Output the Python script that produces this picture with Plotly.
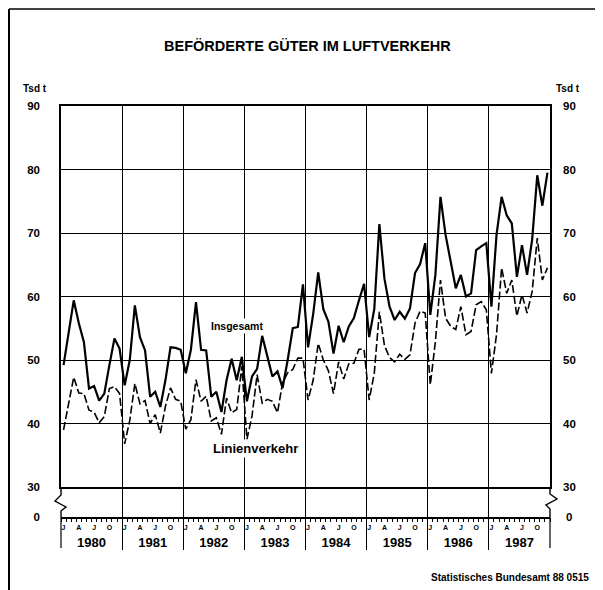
import plotly.graph_objects as go

# ---------------- data ----------------
years = [1980, 1981, 1982, 1983, 1984, 1985, 1986, 1987]
month_letters = ["J", "A", "J", "O"]
month_letter_idx = [0, 3, 6, 9]
y_ticks = [30, 40, 50, 60, 70, 80, 90]

# Insgesamt (Tsd t), monthly Jan..Dec per year
insgesamt = [
    49.2, 54.0, 59.4, 55.8, 52.8, 45.5, 45.9, 43.6, 44.7, 49.2, 53.4, 51.8,  # 1980
    46.0, 50.0, 58.6, 53.6, 51.5, 44.2, 45.0, 42.6, 46.8, 52.0, 51.9, 51.6,  # 1981
    47.9, 51.6, 59.1, 51.6, 51.5, 44.2, 45.0, 41.8, 46.8, 50.2, 46.8, 50.5,  # 1982
    43.5, 47.4, 48.6, 53.8, 50.6, 47.4, 48.2, 45.6, 50.0, 55.0, 55.2, 61.9,  # 1983
    52.0, 57.2, 63.8, 58.0, 56.0, 51.0, 55.4, 52.8, 55.3, 56.6, 59.4, 62.0,  # 1984
    53.6, 58.0, 71.4, 62.8, 58.4, 56.3, 57.6, 56.5, 58.1, 63.7, 65.1, 68.4,  # 1985
    57.1, 63.4, 75.7, 69.7, 65.5, 61.3, 63.4, 60.0, 60.5, 67.3, 67.9, 68.4,  # 1986
    58.4, 69.7, 75.7, 72.8, 71.5, 63.1, 68.1, 63.4, 69.0, 79.1, 74.3, 79.5,  # 1987
]
# Linienverkehr (Tsd t)
linienverkehr = [
    39.0, 43.1, 47.3, 44.8, 44.7, 42.1, 41.8, 40.1, 41.1, 45.5, 45.8, 44.7,  # 1980
    36.8, 40.5, 46.3, 43.1, 43.6, 40.0, 41.4, 38.5, 42.7, 45.6, 43.8, 43.5,  # 1981
    39.1, 40.6, 46.9, 43.5, 44.3, 40.4, 40.9, 38.3, 44.0, 41.7, 42.2, 49.0,  # 1982
    37.5, 41.2, 47.7, 43.2, 43.8, 43.5, 41.7, 46.4, 48.0, 48.5, 50.3, 50.3,  # 1983
    43.7, 46.8, 52.6, 50.0, 48.3, 44.7, 49.7, 47.0, 49.4, 49.5, 51.7, 51.7,  # 1984
    43.7, 47.9, 57.6, 52.3, 50.4, 49.7, 50.9, 50.1, 50.8, 55.8, 57.7, 57.4,  # 1985
    46.1, 52.9, 62.6, 56.6, 55.3, 54.8, 58.4, 54.0, 54.5, 58.7, 59.2, 57.9,  # 1986
    47.9, 54.0, 64.5, 60.5, 62.6, 56.9, 60.3, 57.4, 60.8, 69.2, 62.6, 64.5,  # 1987
]

title_text = "BEFÖRDERTE GÜTER IM LUFTVERKEHR"
unit_text = "Tsd t"
source_text = "Statistisches Bundesamt 88 0515"

# --------------- layout geometry (page pixels; page body has 8px margin) ---------------
OFF = 8
W, H = 603 - OFF, 590 - OFF
PL, PR, PT, PB = 61, 550, 106, 517          # plot area in page pixels
L, R, T, B = PL - OFF, W - (PR - OFF), PT - OFF, H - (PB - OFF)
PW, PH = W - L - R, H - T - B
strip = 30  # broken-axis strip height (px)
d = strip / PH


def px(xp):
    return (xp - PL) / PW


def py(yp):
    return (PB - yp) / PH


FONT = "Liberation Sans, Arial, sans-serif"

x = [yr + (m + 0.5) / 12 for yr in years for m in range(12)]
x_range = [years[0], years[-1] + 1]
inner_year_bounds = years[1:]

fig = go.Figure()
fig.add_trace(go.Scatter(x=x, y=insgesamt, mode="lines", name="Insgesamt",
                         line=dict(color="black", width=2.2), xaxis="x", yaxis="y",
                         showlegend=False, hoverinfo="skip"))
fig.add_trace(go.Scatter(x=x, y=linienverkehr, mode="lines", name="Linienverkehr",
                         line=dict(color="black", width=1.6, dash="8px,3px"),
                         xaxis="x", yaxis="y", showlegend=False, hoverinfo="skip"))
# invisible companions so that the secondary axes are drawn
empty = [None] * len(x)
for xa, ya, yy in [("x", "y3", insgesamt), ("x2", "y2", empty), ("x3", "y2", empty),
                   ("x4", "y2", empty), ("x2", "y4", empty)]:
    fig.add_trace(go.Scatter(x=x, y=yy, mode="lines", xaxis=xa, yaxis=ya,
                             line=dict(width=0, color="rgba(0,0,0,0)"), opacity=0,
                             showlegend=False, hoverinfo="skip"))

bold = dict(family=FONT, color="black", weight="bold")

fig.update_layout(
    width=W, height=H,
    margin=dict(l=L, r=R, t=T, b=B, pad=0, autoexpand=False),
    paper_bgcolor="white", plot_bgcolor="white",
    showlegend=False,
    xaxis=dict(domain=[0, 1], anchor="y", range=x_range,
               tickvals=inner_year_bounds, showticklabels=False, ticks="",
               showgrid=True, gridcolor="black", gridwidth=1.2,
               showline=True, mirror=True, linecolor="black", linewidth=1.5,
               zeroline=False, fixedrange=True),
    yaxis=dict(domain=[d, 1], anchor="x", range=[30, 90], tickvals=y_ticks,
               ticks="", ticklabelstandoff=17, tickfont=dict(size=11.5, **bold),
               showgrid=True, gridcolor="black", gridwidth=1.2,
               showline=True, mirror=True, linecolor="black", linewidth=1.5,
               zeroline=False, fixedrange=True),
    yaxis3=dict(overlaying="y", side="right", anchor="x", range=[30, 90],
                tickvals=y_ticks, ticks="", ticklabelstandoff=12,
                tickfont=dict(size=11.5, **bold), showgrid=False,
                showline=False, zeroline=False, fixedrange=True),
    # bottom strip below the axis break: year grid + year separators
    xaxis2=dict(domain=[0, 1], anchor="y2", range=x_range,
                tickvals=inner_year_bounds, showticklabels=False,
                ticks="outside", ticklen=31, tickwidth=1.2, tickcolor="black",
                showgrid=True, gridcolor="black", gridwidth=1.2,
                showline=True, linecolor="black", linewidth=1.8,
                zeroline=False, fixedrange=True),
    # month letters + monthly ticks
    xaxis3=dict(overlaying="x2", anchor="y2", range=x_range,
                tickvals=[yr + (m + 0.5) / 12 for yr in years for m in month_letter_idx],
                ticktext=month_letters * len(years),
                ticks="", ticklabelstandoff=5,
                tickfont=dict(size=7, **bold),
                minor=dict(dtick=1 / 12, tick0=years[0], ticks="outside",
                           ticklen=4, tickwidth=1, tickcolor="black", showgrid=False),
                showgrid=False, showline=False, zeroline=False, fixedrange=True),
    # year labels
    xaxis4=dict(overlaying="x2", anchor="y2", range=x_range,
                tickvals=[yr + 0.5 for yr in years],
                ticktext=[str(yr) for yr in years],
                ticks="", ticklabelstandoff=16,
                tickfont=dict(size=13, **bold),
                showgrid=False, showline=False, zeroline=False, fixedrange=True),
    yaxis2=dict(domain=[0, d], anchor="x2", range=[0, 1], tickvals=[0], ticktext=["0"],
                ticks="", ticklabelstandoff=20, tickfont=dict(size=11.5, **bold),
                showgrid=False, showline=False, zeroline=False, fixedrange=True),
    yaxis4=dict(overlaying="y2", side="right", anchor="x2", range=[0, 1],
                tickvals=[0], ticktext=["0"], ticks="", ticklabelstandoff=15,
                tickfont=dict(size=11.5, **bold),
                showgrid=False, showline=False, zeroline=False, fixedrange=True),
)


def path(points):
    return "M " + " L ".join(f"{px(a):.5f},{py(b):.5f}" for a, b in points)


shapes = [
    # axis-break zigzags
    dict(type="path", xref="paper", yref="paper",
         path=path([(61, 487), (61, 495), (55, 501), (66, 507), (61, 511), (61, 517)]),
         line=dict(color="black", width=1.4)),
    dict(type="path", xref="paper", yref="paper",
         path=path([(550, 487), (550, 494), (557, 499), (546, 505), (550, 509), (550, 517)]),
         line=dict(color="black", width=1.4)),
    # outer year separators below the axis
    dict(type="line", xref="paper", yref="paper", x0=0, x1=0, y0=py(517), y1=py(548),
         line=dict(color="black", width=1.2)),
    dict(type="line", xref="paper", yref="paper", x0=1, x1=1, y0=py(517), y1=py(548),
         line=dict(color="black", width=1.2)),
    # outer frame (left and top)
    dict(type="line", xref="paper", yref="paper", x0=px(9), x1=px(9), y0=py(9), y1=py(600),
         line=dict(color="black", width=2)),
    dict(type="line", xref="paper", yref="paper", x0=px(9), x1=px(620), y0=py(9), y1=py(9),
         line=dict(color="black", width=1.5)),
]
fig.update_layout(shapes=shapes)

annotations = [
    dict(text=title_text, xref="paper", yref="paper", x=px(307), y=py(46),
         xanchor="center", yanchor="middle", showarrow=False,
         font=dict(size=14.5, **bold)),
    dict(text=unit_text, xref="paper", yref="paper", x=px(35), y=py(89),
         xanchor="center", yanchor="middle", showarrow=False,
         font=dict(size=10, **bold)),
    dict(text=unit_text, xref="paper", yref="paper", x=px(568), y=py(89),
         xanchor="center", yanchor="middle", showarrow=False,
         font=dict(size=10, **bold)),
    dict(text=source_text, xref="paper", yref="paper", x=px(591), y=py(577),
         xanchor="right", yanchor="middle", showarrow=False,
         font=dict(size=10, **bold)),
    dict(text="Insgesamt", xref="x", yref="y", x=1982.88, y=55.4,
         xanchor="center", yanchor="middle", showarrow=False, bgcolor="white",
         borderpad=1, font=dict(size=10.5, family=FONT, color="black", weight=600)),
    dict(text="Linienverkehr", xref="x", yref="y", x=1983.19, y=36.0,
         xanchor="center", yanchor="middle", showarrow=False, bgcolor="white",
         borderpad=1, font=dict(size=13, family=FONT, color="black", weight=600)),
]
fig.update_layout(annotations=annotations)

fig.write_html("out.html")
